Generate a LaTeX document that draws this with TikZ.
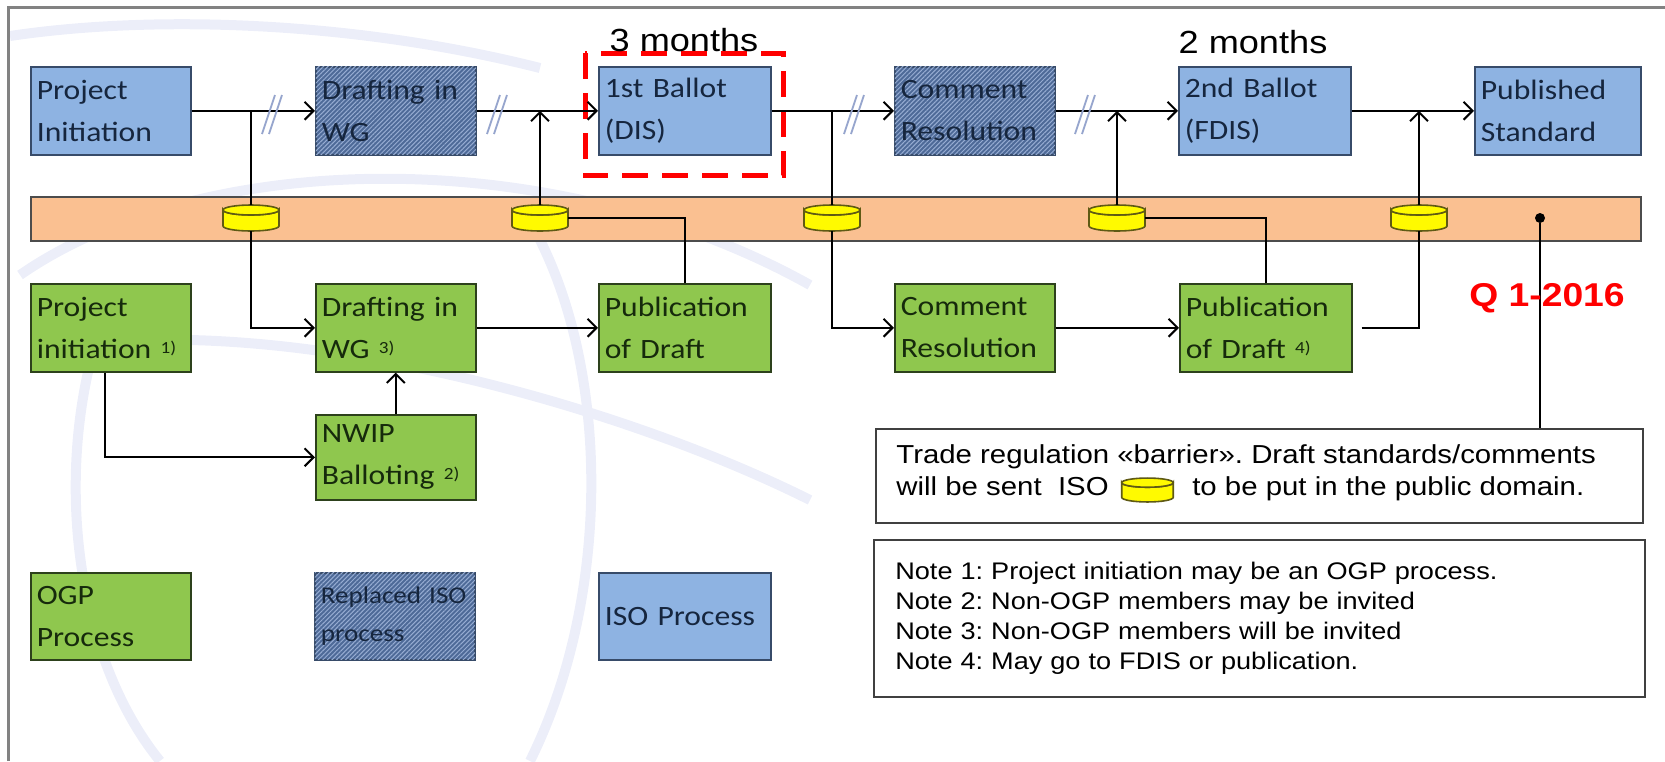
\documentclass[tikz,border=0pt]{standalone}
\usepackage{fontspec}
\setmainfont{Carlito}[FakeStretch=1.13]
\newfontfamily\arialfont{Liberation Sans}[FakeStretch=1.13]
\usetikzlibrary{positioning,arrows.meta,patterns.meta}

\definecolor{isoblue}{RGB}{142,179,226}
\definecolor{isoline}{RGB}{55,75,105}
\definecolor{isotext}{RGB}{22,38,62}
\definecolor{hatchbase}{RGB}{78,106,152}
\definecolor{hatchline}{RGB}{150,172,210}
\definecolor{ogpgreen}{RGB}{143,199,78}
\definecolor{ogpline}{RGB}{45,65,28}
\definecolor{ogptext}{RGB}{22,42,12}
\definecolor{bandorange}{RGB}{250,192,145}
\definecolor{diskyellow}{RGB}{255,250,0}
\definecolor{diskline}{RGB}{95,90,20}
\definecolor{breakblue}{RGB}{150,165,205}
\definecolor{framegray}{RGB}{130,130,130}
\definecolor{globe}{RGB}{236,238,249}

\newcommand{\notemark}[1]{{\fontsize{8.5}{8.5}\selectfont\raisebox{2.5pt}{#1}}}
\frenchspacing

\tikzset{
    diskpic/.pic={
        \filldraw[fill=diskyellow, draw=diskline, line width=0.8pt]
            (-28,-8) -- (-28,8) arc[start angle=180, end angle=0, x radius=28, y radius=5]
            -- (28,-8) arc[start angle=0, end angle=180, x radius=28, y radius=5] -- cycle;
        \filldraw[fill=diskyellow, draw=diskline, line width=0.8pt]
            (0,-8) ellipse[x radius=28, y radius=5];
    }
}

\begin{document}
\begin{tikzpicture}[
        x=0.5pt, y=-0.5pt,
        box/.style={draw, anchor=north west, align=left, inner xsep=3pt, text width=#1,
            minimum height=44pt, line width=0.8pt, font=\fontsize{14}{21}\selectfont},
        iso/.style={box=#1, fill=isoblue, draw=isoline, text=isotext},
        replaced/.style={box=#1, fill=hatchbase, draw=isoline, text=isotext,
            postaction={pattern={Lines[angle=45,distance=1.6pt,line width=0.5pt]}, pattern color=hatchline}},
        ogp/.style={box=#1, fill=ogpgreen, draw=ogpline, text=ogptext},
        arrow/.style={-{Straight Barb[length=4.5pt,width=9pt]}, line width=1pt},
        link/.style={line width=1pt},
        diskspot/.style={rectangle, minimum width=28pt, minimum height=13pt, inner sep=0pt},
        brk/.style={breakblue, line width=0.9pt},
        hilite/.style={red, line width=2.5pt, dash pattern=on 13pt off 7pt},
        month/.style={font=\arialfont\fontsize{16}{16}\selectfont, inner sep=0pt},
        note/.style={draw=black!75, line width=0.8pt, fill=white, anchor=north west},
        txt/.style={font=\arialfont\fontsize{13}{16}\selectfont, inner sep=0pt, text height=1.6ex, text depth=0.4ex},
        globeline/.style={globe, line width=5pt}
    ]
    \useasboundingbox (0,0) rectangle (1665,761);
    % faint globe in the background
    \draw[globeline] (10,36) .. controls (150,15) and (350,20) .. (540,68);
    \draw[globeline] (20,275) .. controls (200,150) and (550,140) .. (810,285);
    \draw[globeline] (110,300) .. controls (50,450) and (70,650) .. (160,761);
    \draw[globeline] (540,240) .. controls (610,380) and (610,600) .. (530,761);
    \draw[globeline] (190,340) .. controls (400,345) and (650,420) .. (810,500);
    \draw[framegray, line width=1.5pt] (8,761) -- (8,7) -- (1665,7);

    % ISO track
    \node[iso=74pt] (pi) at (30,66) {Project\\Initiation};
    \node[replaced=74pt] (dwg) at (315,66) {Drafting in\\WG};
    \node[iso=80pt] (dis) at (598,66) {1st Ballot\\(DIS)};
    \node[replaced=74pt] (cr) at (894,66) {Comment\\Resolution};
    \node[iso=80pt] (fdis) at (1178,66) {2nd Ballot\\(FDIS)};
    \node[iso=77pt] (ps) at (1474,66) {Published\\Standard};
    \draw[hilite] ([xshift=-6.5pt,yshift=6.5pt]dis.north west) rectangle ([xshift=6pt,yshift=-10pt]dis.south east);
    \node[month] (m3) at (684,40) {3 months};
    \node[month] (m2) at (1253,42) {2 months};

    % public domain band
    \node[draw=black!70, fill=bandorange, line width=0.8pt, anchor=north west,
        minimum width=805pt, minimum height=22pt, inner sep=0pt] (band) at (30,196) {};
    \foreach \n/\x in {1/251,2/540,3/832,4/1117,5/1419} {
        \pic at (\x,218) {diskpic};
        \node[diskspot] (d\n) at (\x,218) {};
    }
    \node[circle, fill=black, inner sep=0pt, minimum size=5pt] (q) at (1540,218) {};

    % OGP track
    \node[ogp=74pt] (gpi) at (30,283) {Project\\initiation \notemark{1)}};
    \node[ogp=74pt] (gdwg) at (315,283) {Drafting in\\WG \notemark{3)}};
    \node[ogp=80pt] (gpub) at (598,283) {Publication\\of Draft};
    \node[ogp=74pt] (gcr) at (894,283) {Comment\\Resolution};
    \node[ogp=80pt] (gpub4) at (1179,283) {Publication\\of Draft \notemark{4)}};
    \node[ogp=74pt, minimum height=42.5pt] (nwip) at (315,414) {NWIP\\Balloting \notemark{2)}};

    % legend
    \node[ogp=74pt, minimum height=43.5pt] (lgogp) at (30,572) {OGP\\Process};
    \node[replaced=74pt, minimum height=43.5pt, font=\fontsize{12}{19}\selectfont] (lgrep) at (314,572) {Replaced ISO\\process};
    \node[iso=80pt, minimum height=43.5pt] (lgiso) at (598,572) {ISO Process};

    % ISO flow
    \draw[arrow] (pi) -- (dwg);
    \draw[arrow] (dwg) -- (dis);
    \draw[arrow] (dis) -- (cr);
    \draw[arrow] (cr) -- (fdis);
    \draw[arrow] (fdis) -- (ps);
    \foreach \x in {262,487,844,1075} {
        \draw[brk] (\x,134) -- +(13,-39);
        \draw[brk] (\x+7,134) -- +(13,-39);
    }

    % links through the band
    \draw[link] (pi.east -| d1) -- (d1.north);
    \draw[arrow] (d1.south) |- (gdwg.west);
    \draw[arrow] (d2.north) -- (d2.north |- dwg.east);
    \draw[link] (gpub.north) |- (d2.east);
    \draw[link] (dis.east -| d3) -- (d3.north);
    \draw[arrow] (d3.south) |- (gcr.west);
    \draw[arrow] (d4.north) -- (d4.north |- cr.east);
    \draw[link] (gpub4.north) |- (d4.east);
    \draw[link] ([xshift=4.5pt]gpub4.east) -| (d5.south);
    \draw[arrow] (d5.north) -- (d5.north |- fdis.east);

    % OGP flow
    \draw[arrow] (gdwg) -- (gpub);
    \draw[arrow] (gcr) -- (gpub4);
    \draw[arrow] ([xshift=-3pt]gpi.south) |- (nwip.west);
    \draw[arrow] (nwip) -- (gdwg);

    % notes
    \node[note, minimum width=383.5pt, minimum height=47pt] (trade) at (875,428) {};
    \draw[link] (q) -- (q |- trade.north);
    \node[font=\arialfont\bfseries\fontsize{16.5}{16.5}\selectfont, text=red, inner sep=0pt] (qlab) at (1547,298) {Q 1-2016};
    \node[txt, anchor=west] (tr1) at (896,458) {Trade regulation «barrier». Draft standards/comments};
    \node[txt, anchor=west] (tr2) at (896,490) {will be sent\ \ ISO};
    \node[diskspot, minimum width=26pt, minimum height=12pt, right=6pt of tr2] (dk) {};
    \pic[scale=0.92] at (dk) {diskpic};
    \node[txt, right=9pt of dk] (tr3) {to be put in the public domain.};
    \node[note, minimum width=385.5pt, minimum height=78.5pt, align=left, inner xsep=10.5pt,
        text width=364pt, font=\arialfont\fontsize{12}{15}\selectfont] (notes) at (873,539)
        {Note 1: Project initiation may be an OGP process.\\
         Note 2: Non-OGP members may be invited\\
         Note 3: Non-OGP members will be invited\\
         Note 4: May go to FDIS or publication.};
\end{tikzpicture}
\end{document}
